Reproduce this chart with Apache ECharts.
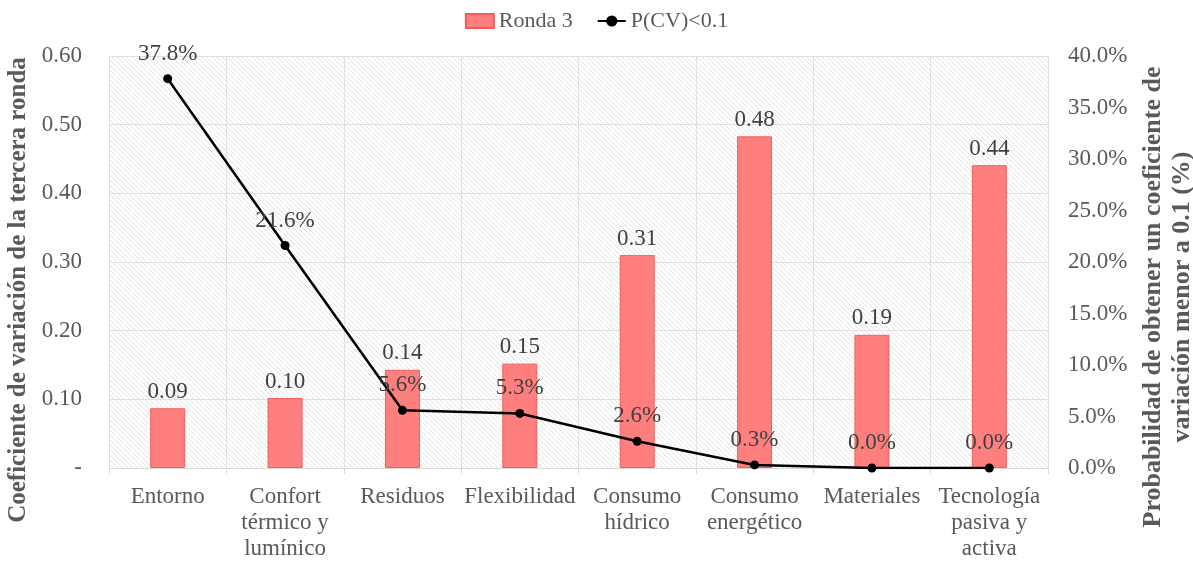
<!DOCTYPE html>
<html>
<head>
<meta charset="utf-8">
<script src="https://cdn.jsdelivr.net/npm/echarts@6/dist/echarts.min.js"></script>
<style>
  html, body { margin: 0; padding: 0; background: #fff; }
  #main { width: 1193px; height: 563px; }
</style>
</head>
<body>
<div id="main"></div>
<script>
var categories = ["Entorno", "Confort\ntérmico y\nlumínico", "Residuos", "Flexibilidad", "Consumo\nhídrico", "Consumo\nenergético", "Materiales", "Tecnología\npasiva y\nactiva"];
var ronda3 = [0.087, 0.102, 0.143, 0.152, 0.31, 0.483, 0.194, 0.441];
var probCV = [37.8, 21.6, 5.6, 5.3, 2.6, 0.3, 0.0, 0.0];

// hatch pattern for plot background
var hatch = document.createElement('canvas');
hatch.width = 5; hatch.height = 5;
var hc = hatch.getContext('2d');
hc.fillStyle = '#ffffff';
hc.fillRect(0, 0, 5, 5);
hc.strokeStyle = '#e2e2e2';
hc.lineWidth = 1;
hc.beginPath();
hc.moveTo(0, 0); hc.lineTo(5, 5);
hc.moveTo(-3, 2); hc.lineTo(3, 8);
hc.moveTo(2, -3); hc.lineTo(8, 3);
hc.stroke();

var font = 'Liberation Serif';
var grey = '#595959';

var myChart = echarts.init(document.getElementById('main'));
var option = {
    textStyle: { fontFamily: font },
    legend: {
        top: 5,
        left: 'center',
        itemGap: 24,
        textStyle: { fontSize: 22, color: grey, fontFamily: font },
        data: [
            { name: 'Ronda 3', icon: 'rect', itemStyle: { color: '#ff7f7f' } },
            { name: 'P(CV)<0.1' }
        ],
        itemWidth: 28,
        itemHeight: 14
    },
    grid: {
        left: 109,
        right: 145,
        top: 56,
        bottom: 95,
        outerBoundsMode: 'none',
        containLabel: false,
        show: true,
        borderWidth: 0,
        backgroundColor: { image: hatch, repeat: 'repeat' }
    },
    xAxis: {
        type: 'category',
        data: categories,
        axisLine: { lineStyle: { color: '#d9d9d9' } },
        axisTick: { show: true, alignWithLabel: false, length: 6, lineStyle: { color: '#d9d9d9' } },
        splitLine: { show: true, interval: 0, lineStyle: { color: '#e0e0e0' } },
        axisLabel: {
            interval: 0,
            fontSize: 23,
            color: grey,
            lineHeight: 26,
            margin: 16,
            fontFamily: font
        }
    },
    yAxis: [
        {
            type: 'value',
            min: 0,
            max: 0.6,
            interval: 0.1,
            name: 'Coeficiente de variación de la tercera ronda',
            nameLocation: 'middle',
            nameRotate: 90,
            nameGap: 76,
            nameTextStyle: { fontSize: 25, fontWeight: 'bold', color: grey, fontFamily: font, padding: [0, 56, 0, 0] },
            axisLine: { show: false },
            axisTick: { show: false },
            splitLine: { lineStyle: { color: '#e0e0e0' } },
            axisLabel: {
                fontSize: 23,
                color: grey,
                margin: 27,
                fontFamily: font,
                formatter: function (v) { return v === 0 ? '-' : v.toFixed(2); }
            }
        },
        {
            type: 'value',
            min: 0,
            max: 40,
            interval: 5,
            name: 'Probabilidad de obtener un coeficiente de\nvariación menor a 0.1 (%)',
            nameLocation: 'middle',
            nameRotate: 90,
            nameGap: 84,
            nameTextStyle: { fontSize: 26, fontWeight: 'bold', color: grey, lineHeight: 29, fontFamily: font, padding: [0, 70, 0, 0] },
            axisLine: { show: false },
            axisTick: { show: false },
            splitLine: { show: false },
            axisLabel: {
                fontSize: 23,
                color: grey,
                margin: 20,
                fontFamily: font,
                formatter: function (v) { return v.toFixed(1) + '%'; }
            }
        }
    ],
    series: [
        {
            name: 'Ronda 3',
            type: 'bar',
            yAxisIndex: 0,
            data: ronda3,
            barWidth: 35,
            itemStyle: { color: '#ff7f7f', borderColor: '#f25c5c', borderWidth: 1 },
            label: {
                show: true,
                position: 'top',
                distance: 5,
                fontSize: 23,
                color: '#404040',
                fontFamily: font,
                formatter: function (p) { return p.value.toFixed(2); }
            },
            z: 2
        },
        {
            name: 'P(CV)<0.1',
            type: 'line',
            yAxisIndex: 1,
            data: probCV,
            symbol: 'circle',
            symbolSize: 9,
            itemStyle: { color: '#000' },
            lineStyle: { color: '#000', width: 2.5 },
            label: {
                show: true,
                position: 'top',
                distance: 9,
                fontSize: 23,
                color: '#404040',
                fontFamily: font,
                formatter: function (p) { return p.value.toFixed(1) + '%'; }
            },
            z: 3
        }
    ]
};
myChart.setOption(option);
</script>
</body>
</html>
